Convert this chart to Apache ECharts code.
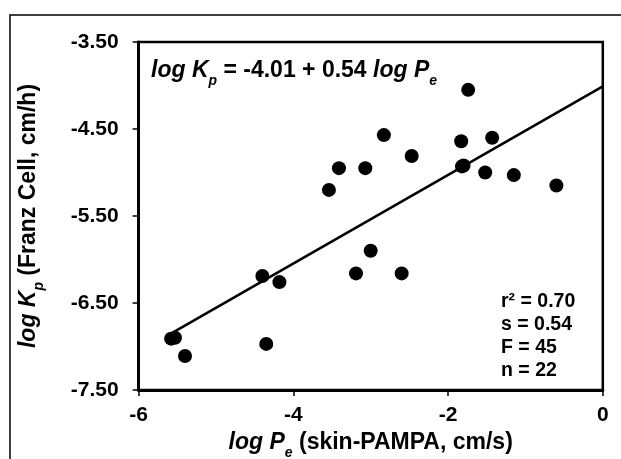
<!DOCTYPE html>
<html>
<head>
<meta charset="utf-8">
<script src="https://cdn.jsdelivr.net/npm/echarts@6/dist/echarts.min.js"></script>
<style>html,body{margin:0;padding:0;background:#fff}#c{width:621px;height:459px}</style>
</head>
<body>
<div id="c"></div>
<script>
const xValues = [-1.74, -2.83, -1.83, -1.43, -2.47, -3.41, -3.07, -1.82, -1.80, -1.52, -1.15, -0.60, -3.54, -3.00, -3.19, -2.60, -4.40, -4.18, -5.58, -5.53, -5.40, -4.35];
const yValues = [-4.05, -4.57, -4.64, -4.60, -4.81, -4.95, -4.95, -4.93, -4.92, -5.00, -5.03, -5.15, -5.20, -5.90, -6.16, -6.16, -6.19, -6.26, -6.91, -6.90, -7.11, -6.97];
const fitX = [-5.56, 0];
const fitY = [-6.84, -4.01];
const yTicks = [-7.5, -6.5, -5.5, -4.5, -3.5];
const xTicks = [-6, -4, -2, 0];
const statsLines = ['r² = 0.70', 's = 0.54', 'F = 45', 'n = 22'];

const FF = '"Liberation Sans", Arial, sans-serif';
const chart = echarts.init(document.getElementById('c'), null, {renderer: 'canvas'});
function makeRich(fs, subFs) {
  return {
    it: {fontFamily: FF, fontWeight: 'bold', fontStyle: 'italic', fontSize: fs, lineHeight: fs + 4, color: '#000', verticalAlign: 'middle'},
    n: {fontFamily: FF, fontWeight: 'bold', fontSize: fs, lineHeight: fs + 4, color: '#000', verticalAlign: 'middle'},
    sub: {fontFamily: FF, fontWeight: 'bold', fontStyle: 'italic', fontSize: subFs, lineHeight: fs + 12, color: '#000', verticalAlign: 'bottom'}
  };
}
const richTitle = makeRich(23, 14);
const richEq = makeRich(23, 14);
chart.setOption({
  animation: false,
  backgroundColor: '#fff',
  grid: {left: 138.6, right: 18.2, top: 42, bottom: 69, show: true, borderColor: '#000', borderWidth: 2.5,
    backgroundColor: 'transparent', containLabel: false, outerBoundsMode: 'none'},
  xAxis: {
    type: 'value', min: xTicks[0], max: xTicks[xTicks.length - 1], interval: 2,
    splitLine: {show: false},
    axisLine: {show: true, onZero: false, lineStyle: {color: '#000', width: 3}},
    axisTick: {show: true, inside: false, length: 6, lineStyle: {color: '#000', width: 1.5}},
    axisLabel: {color: '#000', fontFamily: FF, fontWeight: 'bold', fontSize: 21, margin: 15},
    name: '{it|log P}{sub|e}{n| (skin-PAMPA, cm/s)}',
    nameLocation: 'middle', nameGap: 32,
    nameTextStyle: {rich: richTitle}
  },
  yAxis: {
    type: 'value', min: yTicks[0], max: yTicks[yTicks.length - 1], interval: 1,
    splitLine: {show: false},
    axisLine: {show: true, onZero: false, lineStyle: {color: '#000', width: 3}},
    axisTick: {show: true, inside: false, length: 6, lineStyle: {color: '#000', width: 1.5}},
    axisLabel: {color: '#000', fontFamily: FF, fontWeight: 'bold', fontSize: 21, margin: 20,
      formatter: v => v.toFixed(2)},
    name: '{it|log K}{sub|p}{n| (Franz Cell, cm/h)}',
    nameLocation: 'middle', nameGap: 92, nameRotate: 90,
    nameTextStyle: {rich: richTitle}
  },
  graphic: [
    {type: 'rect', silent: true, shape: {x: 10, y: 15, width: 640, height: 470},
     style: {fill: 'none', stroke: '#000', lineWidth: 1.5}, z: 100},
    {type: 'text', left: 151, top: 59, z: 100,
     style: {text: '{it|log K}{sub|p}{n| = -4.01 + 0.54 }{it|log P}{sub|e}', rich: richEq}},
    {type: 'text', left: 501, top: 290, z: 100,
     style: {text: statsLines.join('\n'), fontFamily: FF, fontWeight: 'bold', fontSize: 19.5, lineHeight: 23, fill: '#000'}}
  ],
  series: [
    {type: 'line', data: fitX.map((x, i) => [x, fitY[i]]), symbol: 'none',
     lineStyle: {color: '#000', width: 2.5}, z: 2},
    {type: 'scatter', data: xValues.map((x, i) => [x, yValues[i]]), symbol: 'circle', symbolSize: 14,
     itemStyle: {color: '#000', opacity: 1}, z: 3}
  ]
});
</script>
</body>
</html>
